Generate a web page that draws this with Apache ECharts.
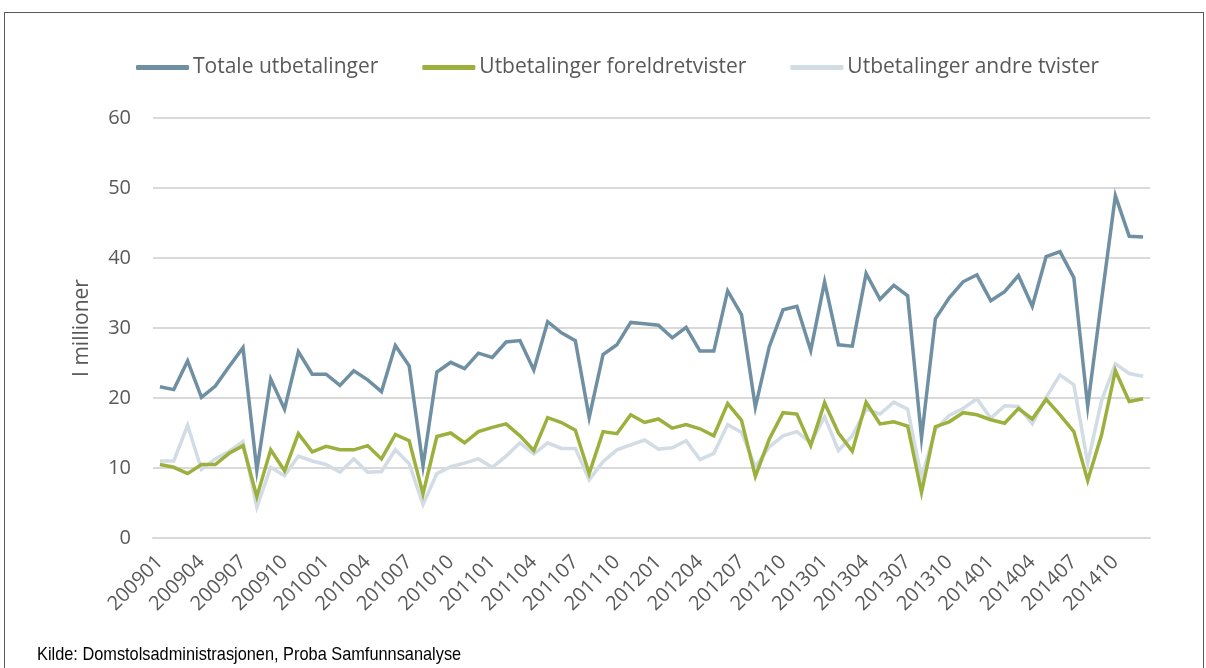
<!DOCTYPE html>
<html>
<head>
<meta charset="utf-8">
<script src="https://cdn.jsdelivr.net/npm/echarts@6/dist/echarts.min.js"></script>
<style>
  html, body { margin: 0; padding: 0; background: #fff; }
  #frame { position: absolute; left: 4px; top: 12px; width: 1198px; height: 700px;
           border: 1px solid #595959; border-bottom: none; }
  #chart { position: absolute; left: 0; top: 0; width: 1206px; height: 668px; }
</style>
</head>
<body>
<div id="frame"></div>
<div id="chart"></div>
<script>
// maaneder 2009-2014
var months = [];
for (var y = 2009; y <= 2014; y++) {
    for (var m = 1; m <= 12; m++) {
        months.push(String(y) + (m < 10 ? '0' + m : m));
    }
}

var totale = [
    21.6, 21.2, 25.3, 20.1, 21.7, 24.5, 27.2, 9.7, 22.7, 18.4, 26.6, 23.4,
    23.4, 21.8, 23.9, 22.6, 20.9, 27.5, 24.6, 10.3, 23.7, 25.1, 24.2, 26.4,
    25.8, 28.0, 28.2, 24.0, 30.9, 29.3, 28.2, 17.2, 26.2, 27.6, 30.8, 30.6,
    30.4, 28.6, 30.1, 26.7, 26.7, 35.3, 31.9, 18.7, 27.3, 32.6, 33.1, 26.8,
    36.6, 27.6, 27.4, 37.8, 34.1, 36.1, 34.6, 14.3, 31.3, 34.3, 36.6, 37.6,
    33.9, 35.2, 37.5, 33.1, 40.2, 40.9, 37.2, 18.8, 34.0, 48.9, 43.1, 43.0
];

var foreldre = [
    10.5, 10.1, 9.2, 10.5, 10.5, 12.1, 13.2, 5.9, 12.6, 9.6, 14.9, 12.3,
    13.1, 12.6, 12.6, 13.2, 11.3, 14.8, 13.9, 6.3, 14.5, 15.0, 13.6, 15.2,
    15.8, 16.3, 14.6, 12.5, 17.2, 16.5, 15.4, 9.2, 15.2, 14.9, 17.6, 16.5,
    17.0, 15.7, 16.2, 15.6, 14.6, 19.2, 16.8, 8.8, 14.1, 17.9, 17.7, 13.2,
    19.3, 15.0, 12.4, 19.4, 16.3, 16.6, 16.0, 6.5, 15.9, 16.6, 17.9, 17.6,
    16.9, 16.4, 18.5, 17.0, 19.8, 17.6, 15.2, 8.2, 14.7, 23.9, 19.5, 19.9
];

var andre = [
    11.0, 11.0, 16.1, 9.8, 11.3, 12.4, 13.8, 4.4, 10.1, 8.9, 11.7, 11.0,
    10.5, 9.4, 11.3, 9.4, 9.5, 12.6, 10.6, 4.8, 9.2, 10.2, 10.7, 11.3,
    10.1, 11.7, 13.6, 12.0, 13.6, 12.8, 12.8, 8.3, 10.9, 12.6, 13.3, 14.0,
    12.7, 12.9, 13.9, 11.2, 12.1, 16.2, 15.1, 10.2, 13.0, 14.6, 15.2, 13.6,
    17.3, 12.5, 14.6, 18.4, 17.7, 19.4, 18.4, 8.6, 15.5, 17.5, 18.5, 19.9,
    17.1, 18.9, 18.8, 16.3, 20.1, 23.3, 21.9, 10.7, 19.6, 24.9, 23.5, 23.1
];

var names = ['Totale utbetalinger', 'Utbetalinger foreldretvister', 'Utbetalinger andre tvister'];
var colors = ['#6f8fa3', '#9bb03d', '#d2dce4'];
var txt = '#595959';

var myChart = echarts.init(document.getElementById('chart'));

var series = [totale, foreldre, andre].map(function (d, i) {
    return {
        name: names[i],
        type: 'line',
        data: d,
        symbol: 'none',
        lineStyle: { width: 3.5, color: colors[i], join: 'miter' },
        itemStyle: { color: colors[i] },
        z: 3 - i
    };
});

var option = {
    animation: false,
    textStyle: { fontFamily: 'Open Sans' },
    legend: {
        top: 52,
        left: 131,
        itemWidth: 53,
        itemHeight: 5,
        itemGap: 44,
        icon: 'roundRect',
        textStyle: { fontSize: 21, color: txt, fontFamily: 'Open Sans', padding: [0, 0, 0, -1] },
        data: names
    },
    grid: { left: 153, right: 56, top: 118, bottom: 130 },
    xAxis: {
        type: 'category',
        data: months,
        boundaryGap: true,
        axisLine: { lineStyle: { color: '#d9d9d9', width: 2 } },
        axisTick: { show: false },
        axisLabel: {
            interval: 2,
            rotate: 45,
            fontSize: 20,
            color: txt,
            margin: 21
        }
    },
    yAxis: {
        type: 'value',
        min: 0,
        max: 60,
        interval: 10,
        name: 'I millioner',
        nameLocation: 'middle',
        nameGap: 60,
        nameTextStyle: { fontSize: 21, color: txt },
        axisLine: { show: false },
        axisTick: { show: false },
        axisLabel: { fontSize: 20, color: txt, margin: 22 },
        splitLine: { lineStyle: { color: '#d9d9d9', width: 2 } }
    },
    graphic: [{
        type: 'text',
        left: 37,
        top: 645,
        scaleX: 0.86,
        style: {
            text: 'Kilde: Domstolsadministrasjonen, Proba Samfunnsanalyse',
            fontSize: 19,
            fontFamily: 'Liberation Sans',
            fill: '#000'
        }
    }],
    series: series
};

myChart.setOption(option);
</script>
</body>
</html>
